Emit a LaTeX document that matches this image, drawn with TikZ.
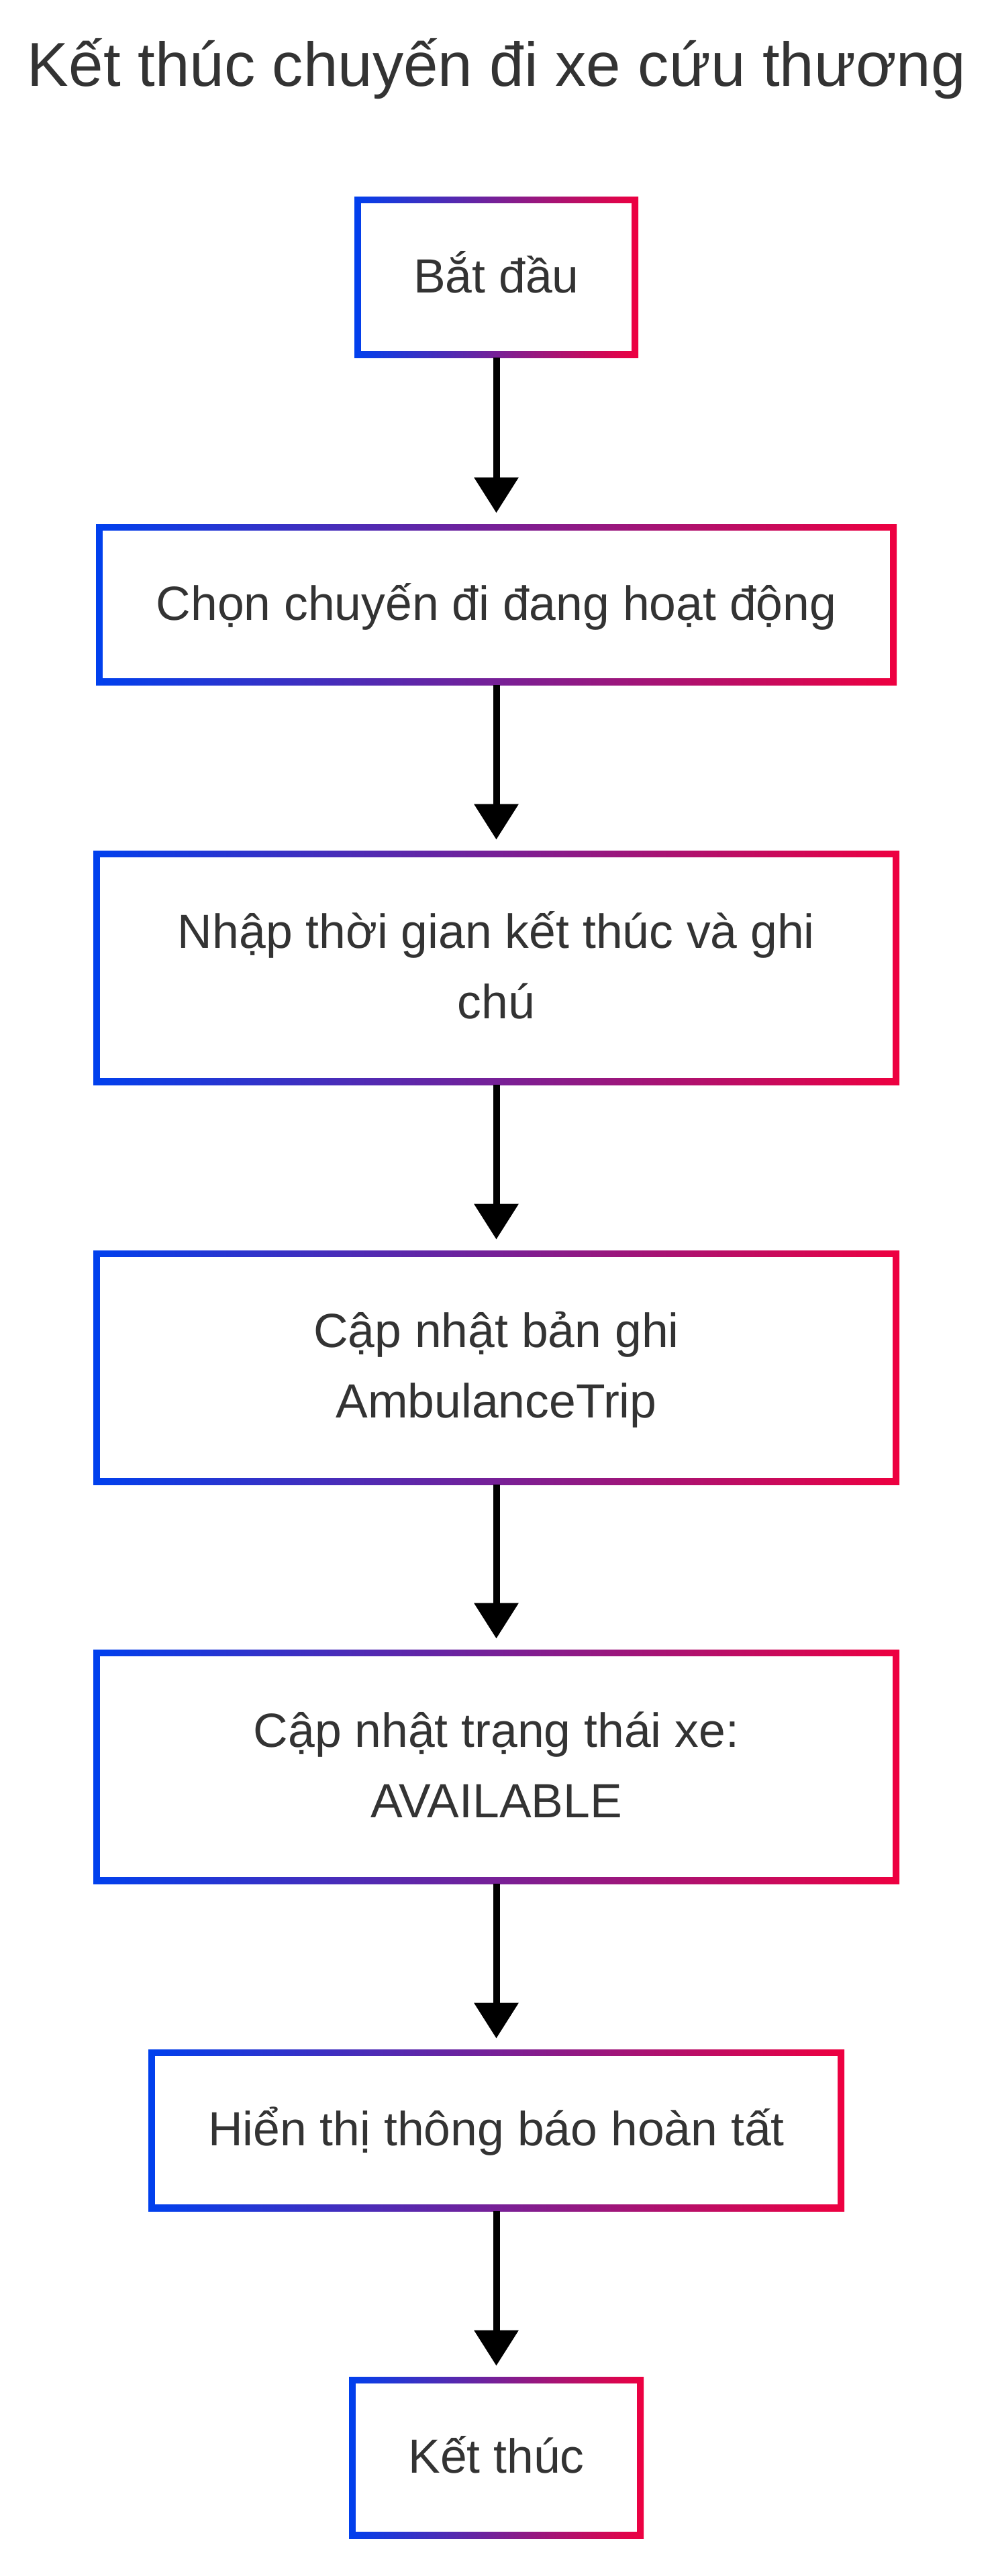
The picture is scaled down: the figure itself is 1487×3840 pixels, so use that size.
\documentclass[tikz,border=0pt]{standalone}
\usepackage{fontspec}
\setmainfont{Liberation Sans}
\usetikzlibrary{arrows.meta,calc}
\definecolor{bl}{RGB}{0,64,238}
\definecolor{rd}{RGB}{238,0,64}
\definecolor{tx}{RGB}{51,51,51}
\pgfdeclarelayer{bg}
\pgfsetlayers{bg,main}
\tikzset{
  outerbox/.style={rectangle, inner sep=0pt, left color=bl, right color=rd, draw=none},
  innerbox/.style={rectangle, inner sep=0pt, fill=white, draw=none},
  lbl/.style={inner sep=0pt, text=tx, font=\fontsize{35.75pt}{52.5pt}\selectfont, anchor=base},
  ttl/.style={inner sep=0pt, text=tx, font=\fontsize{46.25pt}{55pt}\selectfont, anchor=base},
  arr/.style={-{Triangle[length=26.5pt,width=32pt]}, line width=5pt, black, shorten >=8pt}
}
\newcommand{\twolines}[2]{\parbox[t]{560pt}{\centering #1\\#2}}
\begin{document}
\begin{tikzpicture}[x=0.5pt,y=-0.5pt]
\useasboundingbox (0,0) rectangle (1487,3840);
\fill[white] (0,0) rectangle (1487,3840);

\node[ttl] (title) at (740,128) {Kết thúc chuyến đi xe cứu thương};

% boxes
\node[outerbox, minimum width=211.5pt, minimum height=120pt] (b1) at (739.5,413) {};
\node[innerbox, minimum width=201.5pt, minimum height=110pt] (b1i) at (b1.center) {};
\node[lbl] (t1) at (739.5,436) {Bắt đầu};

\node[outerbox, minimum width=596.5pt, minimum height=120pt] (b2) at (739.5,901) {};
\node[innerbox, minimum width=586.5pt, minimum height=110pt] (b2i) at (b2.center) {};
\node[lbl] (t2) at (739.5,924) {Chọn chuyến đi đang hoạt động};

\node[outerbox, minimum width=600.5pt, minimum height=174.5pt] (b3) at (739.5,1442.5) {};
\node[innerbox, minimum width=590.5pt, minimum height=164.5pt] (b3i) at (b3.center) {};
\node[lbl] (t3) at (739.5,1413) {\twolines{Nhập thời gian kết thúc và ghi}{chú}};

\node[outerbox, minimum width=600.5pt, minimum height=174.5pt] (b4) at (739.5,2038.5) {};
\node[innerbox, minimum width=590.5pt, minimum height=164.5pt] (b4i) at (b4.center) {};
\node[lbl] (t4) at (739.5,2008) {\twolines{Cập nhật bản ghi}{AmbulanceTrip}};

\node[outerbox, minimum width=600.5pt, minimum height=174.5pt] (b5) at (739.5,2633.5) {};
\node[innerbox, minimum width=590.5pt, minimum height=164.5pt] (b5i) at (b5.center) {};
\node[lbl] (t5) at (739.5,2604) {\twolines{Cập nhật trạng thái xe:}{AVAILABLE}};

\node[outerbox, minimum width=518.5pt, minimum height=120.5pt] (b6) at (739.5,3175.5) {};
\node[innerbox, minimum width=508.5pt, minimum height=110.5pt] (b6i) at (b6.center) {};
\node[lbl] (t6) at (739.5,3198.5) {Hiển thị thông báo hoàn tất};

\node[outerbox, minimum width=219.5pt, minimum height=120.5pt] (b7) at (739.5,3663.5) {};
\node[innerbox, minimum width=209.5pt, minimum height=110.5pt] (b7i) at (b7.center) {};
\node[lbl] (t7) at (739.5,3686.5) {Kết thúc};

% shadows
\begin{pgfonlayer}{bg}
\foreach \n in {b1,b2,b3,b4,b5,b6,b7}{
  \foreach \i in {1,...,8}{
    \fill[black, opacity=0.028] ($(\n.south west)+(-3*\i,8+3*\i)$) rectangle ($(\n.north east)+(3*\i,8-3*\i)$);
  }
}
\end{pgfonlayer}

% arrows
\draw[arr] (b1) -- (b2);
\draw[arr] (b2) -- (b3);
\draw[arr] (b3) -- (b4);
\draw[arr] (b4) -- (b5);
\draw[arr] (b5) -- (b6);
\draw[arr] (b6) -- (b7);
\end{tikzpicture}
\end{document}
